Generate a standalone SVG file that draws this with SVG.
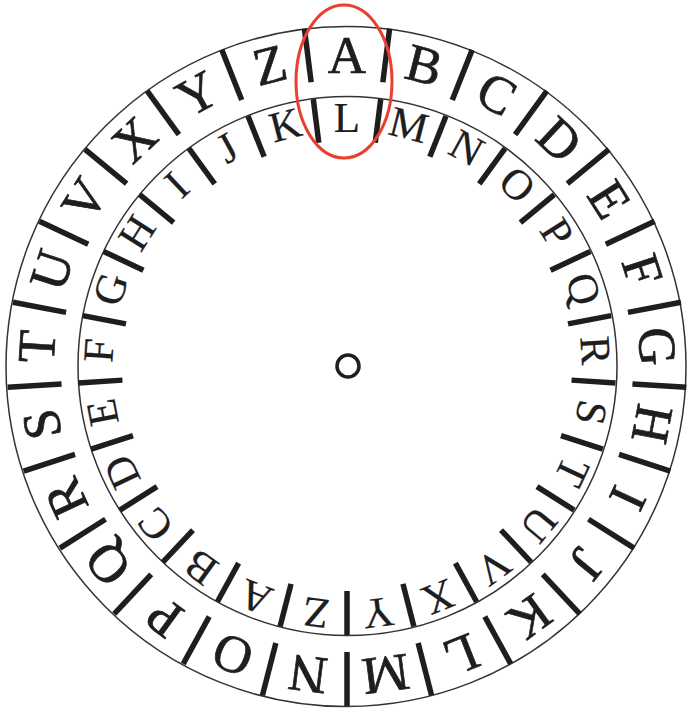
<svg xmlns="http://www.w3.org/2000/svg" width="687" height="709" viewBox="0 0 687 709">
<style>
.ring{fill:none;stroke:#333;stroke-width:1.5}
.tk{stroke:#1e1e1e;stroke-width:5.5}
text{font-family:'Liberation Serif','DejaVu Serif',serif;fill:#1e1e1e;text-anchor:middle}
.o{font-size:53px;stroke:#1e1e1e;stroke-width:0.7}
.i{font-size:43px;stroke:#1e1e1e;stroke-width:0.2}
</style>
<defs>
<line id="ot" class="tk" x1="347" y1="26" x2="347" y2="80"/>
<line id="it" class="tk" x1="347" y1="97" x2="347" y2="141"/>
</defs>
<rect width="687" height="709" fill="#fff"/>
<g id="circles">
<circle class="ring" cx="346" cy="366.5" r="340"/>
<circle class="ring" cx="347.5" cy="366" r="269.5"/>
<circle cx="348" cy="366" r="11" fill="none" stroke="#1e1e1e" stroke-width="3.5"/>
</g>
<g id="outer-ticks">
<use href="#ot" transform="rotate(7.2 347 366)"/><use href="#ot" transform="rotate(21.6 347 366)"/><use href="#ot" transform="rotate(36 347 366)"/><use href="#ot" transform="rotate(50.4 347 366)"/><use href="#ot" transform="rotate(64.8 347 366)"/><use href="#ot" transform="rotate(79.2 347 366)"/><use href="#ot" transform="rotate(93.6 347 366)"/><use href="#ot" transform="rotate(108 347 366)"/><use href="#ot" transform="rotate(122.4 347 366)"/><use href="#ot" transform="rotate(136.8 347 366)"/><use href="#ot" transform="rotate(151.2 347 366)"/><use href="#ot" transform="rotate(165.6 347 366)"/><use href="#ot" transform="rotate(180 347 366)"/><use href="#ot" transform="rotate(194.4 347 366)"/><use href="#ot" transform="rotate(208.8 347 366)"/><use href="#ot" transform="rotate(223.2 347 366)"/><use href="#ot" transform="rotate(237.6 347 366)"/><use href="#ot" transform="rotate(252 347 366)"/><use href="#ot" transform="rotate(266.4 347 366)"/><use href="#ot" transform="rotate(280.8 347 366)"/><use href="#ot" transform="rotate(295.2 347 366)"/><use href="#ot" transform="rotate(309.6 347 366)"/><use href="#ot" transform="rotate(324 347 366)"/><use href="#ot" transform="rotate(338.4 347 366)"/><use href="#ot" transform="rotate(352.8 347 366)"/>
</g>
<g id="inner-ticks">
<use href="#it" transform="rotate(7.2 347 366)"/><use href="#it" transform="rotate(21.6 347 366)"/><use href="#it" transform="rotate(36 347 366)"/><use href="#it" transform="rotate(50.4 347 366)"/><use href="#it" transform="rotate(64.8 347 366)"/><use href="#it" transform="rotate(79.2 347 366)"/><use href="#it" transform="rotate(93.6 347 366)"/><use href="#it" transform="rotate(108 347 366)"/><use href="#it" transform="rotate(122.4 347 366)"/><use href="#it" transform="rotate(136.8 347 366)"/><use href="#it" transform="rotate(151.2 347 366)"/><use href="#it" transform="rotate(165.6 347 366)"/><use href="#it" transform="rotate(180 347 366)"/><use href="#it" transform="rotate(194.4 347 366)"/><use href="#it" transform="rotate(208.8 347 366)"/><use href="#it" transform="rotate(223.2 347 366)"/><use href="#it" transform="rotate(237.6 347 366)"/><use href="#it" transform="rotate(252 347 366)"/><use href="#it" transform="rotate(266.4 347 366)"/><use href="#it" transform="rotate(280.8 347 366)"/><use href="#it" transform="rotate(295.2 347 366)"/><use href="#it" transform="rotate(309.6 347 366)"/><use href="#it" transform="rotate(324 347 366)"/><use href="#it" transform="rotate(338.4 347 366)"/><use href="#it" transform="rotate(352.8 347 366)"/>
</g>
<g id="outer-letters">
<text class="o" x="347" y="73" transform="rotate(0 347 366)">A</text>
<text class="o" x="347" y="73" transform="rotate(14.4 347 366)">B</text>
<text class="o" x="347" y="73" transform="rotate(28.8 347 366)">C</text>
<text class="o" x="347" y="73" transform="rotate(43.2 347 366)">D</text>
<text class="o" x="347" y="73" transform="rotate(57.6 347 366)">E</text>
<text class="o" x="347" y="73" transform="rotate(72 347 366)">F</text>
<text class="o" x="347" y="73" transform="rotate(86.4 347 366)">G</text>
<text class="o" x="347" y="73" transform="rotate(100.8 347 366)">H</text>
<text class="o" x="347" y="73" transform="rotate(115.2 347 366)">I</text>
<text class="o" x="347" y="73" transform="rotate(129.6 347 366)">J</text>
<text class="o" x="347" y="73" transform="rotate(144 347 366)">K</text>
<text class="o" x="347" y="73" transform="rotate(158.4 347 366)">L</text>
<text class="o" x="347" y="73" transform="rotate(172.8 347 366)">M</text>
<text class="o" x="347" y="73" transform="rotate(187.2 347 366)">N</text>
<text class="o" x="347" y="73" transform="rotate(201.6 347 366)">O</text>
<text class="o" x="347" y="73" transform="rotate(216 347 366)">P</text>
<text class="o" x="347" y="73" transform="rotate(230.4 347 366)">Q</text>
<text class="o" x="347" y="73" transform="rotate(244.8 347 366)">R</text>
<text class="o" x="347" y="73" transform="rotate(259.2 347 366)">S</text>
<text class="o" x="347" y="73" transform="rotate(273.6 347 366)">T</text>
<text class="o" x="347" y="73" transform="rotate(288 347 366)">U</text>
<text class="o" x="347" y="73" transform="rotate(302.4 347 366)">V</text>
<text class="o" x="347" y="73" transform="rotate(316.8 347 366)">X</text>
<text class="o" x="347" y="73" transform="rotate(331.2 347 366)">Y</text>
<text class="o" x="347" y="73" transform="rotate(345.6 347 366)">Z</text>
</g>
<g id="inner-letters">
<text class="i" x="347" y="131.5" transform="rotate(0 347 366)">L</text>
<text class="i" x="347" y="131.5" transform="rotate(14.4 347 366)">M</text>
<text class="i" x="347" y="131.5" transform="rotate(28.8 347 366)">N</text>
<text class="i" x="347" y="131.5" transform="rotate(43.2 347 366)">O</text>
<text class="i" x="347" y="131.5" transform="rotate(57.6 347 366)">P</text>
<text class="i" x="347" y="131.5" transform="rotate(72 347 366)">Q</text>
<text class="i" x="347" y="131.5" transform="rotate(86.4 347 366)">R</text>
<text class="i" x="347" y="131.5" transform="rotate(100.8 347 366)">S</text>
<text class="i" x="347" y="131.5" transform="rotate(115.2 347 366)">T</text>
<text class="i" x="347" y="131.5" transform="rotate(129.6 347 366)">U</text>
<text class="i" x="347" y="131.5" transform="rotate(144 347 366)">V</text>
<text class="i" x="347" y="131.5" transform="rotate(158.4 347 366)">X</text>
<text class="i" x="347" y="131.5" transform="rotate(172.8 347 366)">Y</text>
<text class="i" x="347" y="131.5" transform="rotate(187.2 347 366)">Z</text>
<text class="i" x="347" y="131.5" transform="rotate(201.6 347 366)">A</text>
<text class="i" x="347" y="131.5" transform="rotate(216 347 366)">B</text>
<text class="i" x="347" y="131.5" transform="rotate(230.4 347 366)">C</text>
<text class="i" x="347" y="131.5" transform="rotate(244.8 347 366)">D</text>
<text class="i" x="347" y="131.5" transform="rotate(259.2 347 366)">E</text>
<text class="i" x="347" y="131.5" transform="rotate(273.6 347 366)">F</text>
<text class="i" x="347" y="131.5" transform="rotate(288 347 366)">G</text>
<text class="i" x="347" y="131.5" transform="rotate(302.4 347 366)">H</text>
<text class="i" x="347" y="131.5" transform="rotate(316.8 347 366)">I</text>
<text class="i" x="347" y="131.5" transform="rotate(331.2 347 366)">J</text>
<text class="i" x="347" y="131.5" transform="rotate(345.6 347 366)">K</text>
</g>
<g id="highlight">
<ellipse cx="344" cy="81.5" rx="48" ry="76.5" fill="none" stroke="#e8402e" stroke-width="3"/>
</g>
</svg>
